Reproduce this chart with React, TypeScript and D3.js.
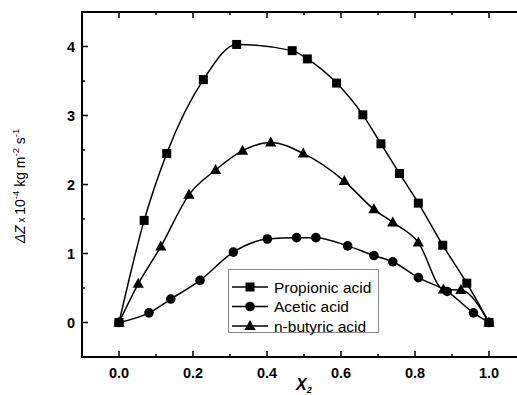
import React, { useRef, useEffect } from "react"
import * as d3 from "d3"

// Propionic acid (squares)
const propionicX = [0, 0.068, 0.129, 0.228, 0.318, 0.468, 0.509, 0.588, 0.659, 0.708, 0.758, 0.809, 0.875, 0.94, 1.0]
const propionicY = [0, 1.48, 2.45, 3.52, 4.03, 3.94, 3.82, 3.47, 3.01, 2.59, 2.16, 1.73, 1.12, 0.57, 0]
// Acetic acid (circles)
const aceticX = [0, 0.081, 0.14, 0.219, 0.309, 0.401, 0.48, 0.532, 0.618, 0.689, 0.74, 0.809, 0.887, 0.958, 1.0]
const aceticY = [0, 0.14, 0.34, 0.61, 1.02, 1.21, 1.23, 1.23, 1.11, 0.97, 0.88, 0.65, 0.45, 0.14, 0]
// n-butyric acid (triangles)
const butyricX = [0, 0.052, 0.113, 0.189, 0.261, 0.334, 0.41, 0.498, 0.609, 0.689, 0.74, 0.809, 0.877, 0.924, 1.0]
const butyricY = [0, 0.56, 1.1, 1.85, 2.21, 2.49, 2.61, 2.45, 2.05, 1.64, 1.45, 1.16, 0.48, 0.47, 0]

const seriesNames = ["Propionic acid", "Acetic acid", "n-butyric acid"]
const xTickLabels = [0, 0.2, 0.4, 0.6, 0.8, 1.0]
const yTickLabels = [0, 1, 2, 3, 4]

const W = 517
const H = 395
const MARGIN = { top: 12, left: 82, bottom: 38 }
const FONT = "'Liberation Sans', Arial, sans-serif"

type Pt = { x: number; y: number }

function drawMarker(g: d3.Selection<SVGGElement, unknown, null, undefined>, shape: string, x: number, y: number) {
  if (shape === "square") {
    g.append("rect").attr("x", x - 4.5).attr("y", y - 4.5).attr("width", 9).attr("height", 9).attr("fill", "#000")
  } else if (shape === "circle") {
    g.append("circle").attr("cx", x).attr("cy", y).attr("r", 4.8).attr("fill", "#000")
  } else {
    g.append("path")
      .attr("d", `M${x},${y - 6} L${x + 5.6},${y + 4} L${x - 5.6},${y + 4} Z`)
      .attr("fill", "#000")
  }
}

export default function App() {
  const svgRef = useRef<SVGSVGElement>(null)

  useEffect(() => {
    const svg = d3.select(svgRef.current)
    svg.selectAll("*").remove()

    const x = d3.scaleLinear().domain([-0.1, 1.1]).range([MARGIN.left, MARGIN.left + 444])
    const y = d3.scaleLinear().domain([-0.5, 4.5]).range([H - MARGIN.bottom, MARGIN.top])

    const series = [
      { name: seriesNames[0], shape: "square", pts: propionicX.map((v, i) => ({ x: v, y: propionicY[i] })) },
      { name: seriesNames[1], shape: "circle", pts: aceticX.map((v, i) => ({ x: v, y: aceticY[i] })) },
      { name: seriesNames[2], shape: "triangle", pts: butyricX.map((v, i) => ({ x: v, y: butyricY[i] })) },
    ]

    const root = svg.append("g")

    // Curves
    const line = d3.line<Pt>().x((d) => x(d.x)).y((d) => y(d.y)).curve(d3.curveMonotoneX)
    series.forEach((s) => {
      root.append("path").datum(s.pts)
        .attr("fill", "none").attr("stroke", "#000").attr("stroke-width", 1.5)
        .attr("d", line)
    })
    series.forEach((s) => {
      const mg = root.append("g")
      s.pts.forEach((p) => drawMarker(mg, s.shape, x(p.x), y(p.y)))
    })

    // Frame
    const x0 = x(-0.1), x1 = x(1.1), y0 = y(-0.5), y1 = y(4.5)
    root.append("rect").attr("x", x0).attr("y", y1).attr("width", x1 - x0).attr("height", y0 - y1)
      .attr("fill", "none").attr("stroke", "#000").attr("stroke-width", 2)

    // X ticks (bottom + top, inward)
    const xMinor = d3.range(-0.1, 1.101, 0.1).map((v) => +v.toFixed(2))
    xMinor.forEach((v) => {
      const major = Math.abs(Math.round(v * 10) % 2) === 0
      const len = major ? 6 : 3
      root.append("line").attr("x1", x(v)).attr("x2", x(v)).attr("y1", y0).attr("y2", y0 - len)
        .attr("stroke", "#000").attr("stroke-width", 1.5)
      root.append("line").attr("x1", x(v)).attr("x2", x(v)).attr("y1", y1).attr("y2", y1 + len)
        .attr("stroke", "#000").attr("stroke-width", 1.5)
    })
    root.append("g").selectAll("text").data(xTickLabels).join("text")
      .attr("x", (d) => x(d)).attr("y", y0 + 21)
      .attr("text-anchor", "middle").attr("font-family", FONT).attr("font-weight", "bold")
      .attr("font-size", 14.5).text((d) => d3.format(".1f")(d))

    // Y ticks (left + right, inward)
    const yMinor = d3.range(-0.5, 4.51, 0.5)
    yMinor.forEach((v) => {
      const major = Number.isInteger(v)
      const len = major ? 6 : 3
      root.append("line").attr("x1", x0).attr("x2", x0 + len).attr("y1", y(v)).attr("y2", y(v))
        .attr("stroke", "#000").attr("stroke-width", 1.5)
      root.append("line").attr("x1", x1).attr("x2", x1 - len).attr("y1", y(v)).attr("y2", y(v))
        .attr("stroke", "#000").attr("stroke-width", 1.5)
    })
    root.append("g").selectAll("text").data(yTickLabels).join("text")
      .attr("x", x0 - 7).attr("y", (d) => y(d)).attr("dy", "0.36em")
      .attr("text-anchor", "end").attr("font-family", FONT).attr("font-weight", "bold")
      .attr("font-size", 14.5).text((d) => String(d))

    // Y axis title
    const yt = root.append("text")
      .attr("transform", `translate(25,186) rotate(-90)`)
      .attr("text-anchor", "middle").attr("font-family", FONT).attr("font-size", 14)
    yt.append("tspan").attr("font-style", "italic").text("ΔZ")
    yt.append("tspan").attr("font-size", 10).text(" x ")
    yt.append("tspan").text("10")
    yt.append("tspan").attr("font-size", 9.5).attr("dy", -6).text("-4")
    yt.append("tspan").attr("dy", 6).text(" kg m")
    yt.append("tspan").attr("font-size", 9.5).attr("dy", -6).text("-2")
    yt.append("tspan").attr("dy", 6).text(" s")
    yt.append("tspan").attr("font-size", 9.5).attr("dy", -6).text("-1")

    // X axis title
    const xt = root.append("text").attr("x", 296).attr("y", 390)
      .attr("font-family", FONT).attr("font-size", 16).attr("font-weight", "bold").attr("font-style", "italic")
    xt.append("tspan").text("X")
    xt.append("tspan").attr("font-size", 9).attr("dy", 3).text("2")

    // Legend
    const lg = root.append("g")
    lg.append("rect").attr("x", 228.5).attr("y", 269.5).attr("width", 150).attr("height", 63)
      .attr("fill", "#fff").attr("stroke", "#888").attr("stroke-width", 1)
    series.forEach((s, i) => {
      const cy = 287 + i * 19.5
      lg.append("line").attr("x1", 232).attr("x2", 268).attr("y1", cy).attr("y2", cy)
        .attr("stroke", "#000").attr("stroke-width", 1.5)
      const mg = lg.append("g")
      drawMarker(mg, s.shape, 250, cy)
      lg.append("text").attr("x", 274).attr("y", cy).attr("dy", "0.36em")
        .attr("font-family", FONT).attr("font-size", 15.5).text(s.name)
    })
  }, [])

  return (
    <svg ref={svgRef} width={W} height={H}
      style={{ position: "absolute", left: 0, top: 0, background: "#fff", display: "block" }} />
  )
}
